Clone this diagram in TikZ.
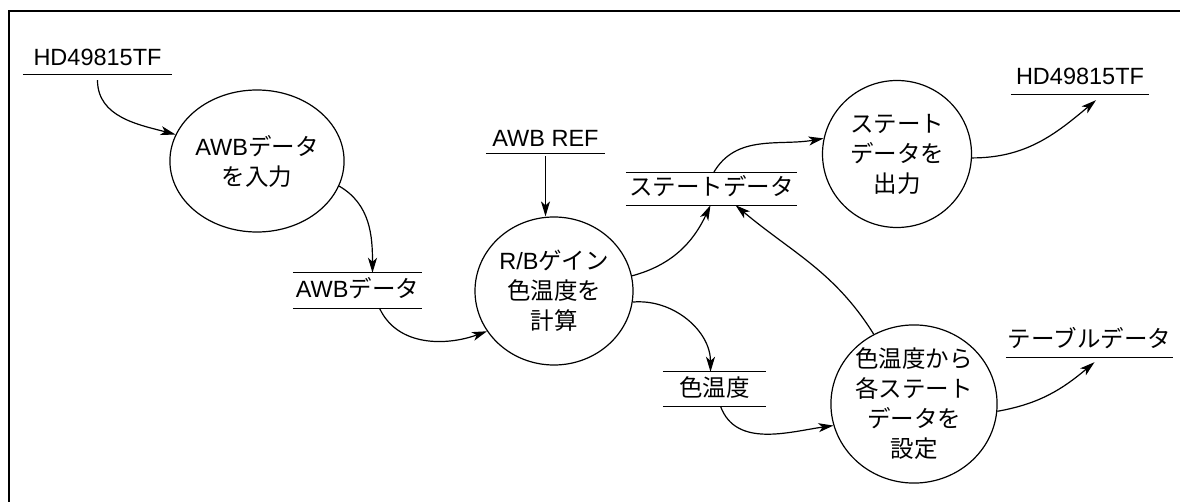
\documentclass[tikz,border=0pt]{standalone}
\usepackage{fontspec}
\setmainfont{Liberation Sans}
\newfontfamily\jp{Noto Sans CJK JP}
\usetikzlibrary{arrows.meta,shapes.geometric}
\begin{document}
\begin{tikzpicture}[x=1pt,y=1pt,
  font=\fontsize{23.5}{30}\selectfont,
  proc/.style={ellipse, draw, line width=1.2pt, inner sep=0pt, align=center},
  lbl/.style={inner sep=0pt, text height=17pt, text depth=3pt},
  flow/.style={line width=1.2pt, -{Stealth[length=15pt,width=9pt,inset=4pt]}},
  rule/.style={line width=1.2pt},
  frame/.style={line width=2pt}]
\useasboundingbox (0,0) rectangle (1180,-502);
\coordinate (fa) at (9,-502);
\coordinate (fb) at (9,-11);
\coordinate (fc) at (1180,-11);
\draw[frame] (fa) -- (fb) -- (fc);

% processes
\node[proc, minimum width=146pt, minimum height=142pt] (c1) at (257,-161) {AWB{\jp データ}\\{\jp を入力}};
\node[proc, minimum width=158pt, minimum height=148pt] (c2) at (554,-291) {R/B{\jp ゲイン}\\{\jp 色温度を}\\{\jp 計算}};
\node[proc, minimum width=149pt, minimum height=147pt] (c3) at (897,-154) {{\jp ステート}\\{\jp データを}\\{\jp 出力}};
\node[proc, minimum width=158pt, minimum height=156pt] (c4) at (914,-404) {{\jp 色温度から}\\{\jp 各ステート}\\{\jp データを}\\{\jp 設定}};

% terminators / stores
\node[lbl, minimum width=149pt, minimum height=31pt] (hd1) at (97.5,-58.5) {HD49815TF};
\draw[rule] (hd1.south west) -- (hd1.south east);
\node[lbl, minimum width=119pt, minimum height=27pt] (ref) at (545.5,-139.5) {AWB REF};
\draw[rule] (ref.south west) -- (ref.south east);
\node[lbl, minimum width=138pt, minimum height=32pt] (hd2) at (1080,-78) {HD49815TF};
\draw[rule] (hd2.south west) -- (hd2.south east);
\node[lbl, minimum width=167pt, minimum height=32pt] (tbl) at (1089.5,-341) {\jp テーブルデータ};
\draw[rule] (tbl.south west) -- (tbl.south east);

\node[lbl, minimum width=129pt, minimum height=35pt] (sawb) at (357.5,-290.5) {AWB{\jp データ}};
\draw[rule] (sawb.north west) -- (sawb.north east) (sawb.south west) -- (sawb.south east);
\node[lbl, minimum width=171pt, minimum height=32pt] (sst) at (711.5,-189) {\jp ステートデータ};
\draw[rule] (sst.north west) -- (sst.north east) (sst.south west) -- (sst.south east);
\node[lbl, minimum width=103pt, minimum height=34pt] (stmp) at (714.5,-389) {\jp 色温度};
\draw[rule] (stmp.north west) -- (stmp.north east) (stmp.south west) -- (stmp.south east);

% flows
\draw[flow] ([yshift=-6pt]hd1.south) to[out=-90,in=165] (c1.162);
\draw[flow] (c1.-17) to[out=-30,in=90] ([xshift=15pt]sawb.north);
\draw[flow] ([xshift=22pt]sawb.south) to[out=-65,in=200] (c2.211);
\draw[flow] ([yshift=-3pt]ref.south) -- (ref.south |- c2.north);
\draw[flow] (c2.11) to[out=15,in=-115] ([xshift=-1pt]sst.south);
\draw[flow] (c2.-8) to[out=5,in=90] ([xshift=-4pt]stmp.north);
\draw[flow] ([xshift=6pt]stmp.south) to[out=-70,in=188] (c4.195);
\draw[flow] (c4.120) to[out=122,in=-40] ([xshift=24pt]sst.south);
\draw[flow] ([xshift=2pt]sst.north) to[out=60,in=190] (c3.168);
\draw[flow] (c3.-3) to[out=0,in=220] ([xshift=16pt,yshift=-6pt]hd2.south);
\draw[flow] (c4.-5) to[out=10,in=220] ([xshift=5pt,yshift=-5pt]tbl.south);
\end{tikzpicture}
\end{document}
